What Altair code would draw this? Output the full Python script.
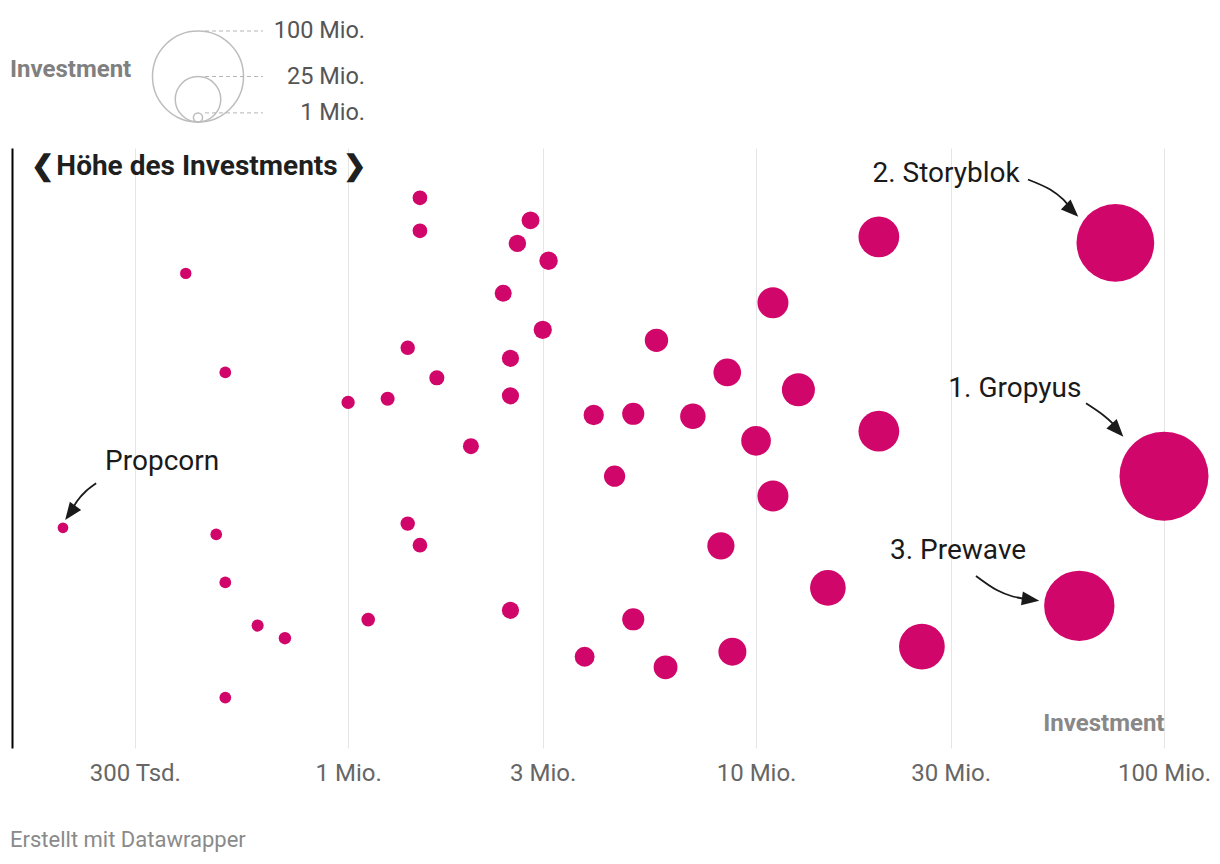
import math
import altair as alt
import pandas as pd

# ---------------- data ----------------
# Investment per start-up, in Mio. Euro
investment_mio = [1.5, 1.5, 2.8, 2.6, 3.1, 0.4, 2.4, 3.0, 1.4, 2.5,
                  0.5, 1.65, 1.0, 1.25, 2.5, 2.0, 4.0, 5.0, 5.7, 7.0,
                  8.5, 10.0, 11.0, 12.7, 20.0, 20.0, 76.0, 100.0, 4.5, 11.0,
                  0.2, 0.475, 1.4, 1.5, 8.2, 0.5, 15.0, 62.0, 0.6, 0.7,
                  1.12, 2.5, 5.0, 3.8, 6.0, 8.75, 25.5, 0.5]
# vertical scatter position (beeswarm jitter, 0 = top, 100 = bottom)
streuung = [8.3, 13.8, 12.05, 15.9, 18.8, 20.9, 24.2, 30.3, 33.3, 35.05,
            37.4, 38.3, 42.4, 41.8, 41.3, 49.7, 44.5, 44.3, 32.05, 44.7,
            37.4, 48.8, 25.8, 40.3, 14.8, 47.2, 15.8, 54.7, 54.7, 58.0,
            63.3, 64.4, 62.6, 66.2, 66.3, 72.4, 73.3, 76.3, 79.6, 81.7,
            78.6, 77.05, 78.55, 84.8, 86.55, 83.95, 83.1, 91.6]

tick_values = [300000, 1000000, 3000000, 10000000, 30000000, 100000000]
tick_labels = ["300 Tsd.", "1 Mio.", "3 Mio.", "10 Mio.", "30 Mio.", "100 Mio."]

ann_labels = ["2. Storyblok", "1. Gropyus", "3. Prewave", "Propcorn"]
ann_x_mio = [19.3, 29.6, 21.3, 0.2537]
ann_y = [4.3, 40.2, 67.2, 52.3]

arrow_id = ["Storyblok"] * 4 + ["Gropyus"] * 4 + ["Prewave"] * 4 + ["Propcorn"] * 4
arrow_step = [0, 1, 2, 3] * 4
arrow_x_mio = [46.4, 52.6, 56.6, 59.5,
               64.4, 70.9, 74.6, 76.9,
               34.6, 38.9, 42.6, 47.1,
               0.2412, 0.2279, 0.2167, 0.2085]
arrow_y = [5.25, 6.92, 8.58, 10.43,
           42.55, 44.5, 45.83, 47.03,
           71.33, 73.67, 74.75, 75.25,
           55.88, 57.17, 58.83, 60.82]
head_x_mio = [59.5, 76.9, 47.1, 0.2085]
head_y = [10.43, 47.03, 75.25, 60.82]
head_angle = [134, 137.5, 97.6, 216.2]

legend_title = "Investment"
legend_values = [100000000, 25000000, 1000000]
legend_labels = ["100 Mio.", "25 Mio.", "1 Mio."]

y_title = "\u276e\u200aH\u00f6he des Investments\u2009\u276f"
x_title = "Investment"
credit = "Erstellt mit Datawrapper"

# ---------------- styling ----------------
W, H = 1152, 600
FONT = "Roboto"
MAGENTA = "#d1066b"
INK = "#1a1a1a"

x_scale = alt.Scale(type="log", domain=[150000, 100000000], nice=False)
y_scale = alt.Scale(domain=[0, 100], reverse=True, nice=False, zero=False)

label_expr = "{" + ", ".join(f"'{v}': '{l}'" for v, l in zip(tick_values, tick_labels)) + "}[datum.value]"

x_axis = alt.Axis(values=tick_values, labelExpr=label_expr, grid=True, gridColor="#e5e5e5",
                  gridWidth=1, domain=False, ticks=False, labelFontSize=24, labelColor="#666666",
                  labelFont=FONT, labelPadding=13, labelFlush=False, labelOverlap=False,
                  title=x_title, titleX=W, titleY=-25, titleAlign="right", titleBaseline="middle",
                  titleFontSize=24, titleFontWeight="bold", titleColor="#888888", titleFont=FONT)
y_axis = alt.Axis(domain=True, domainColor="#000000", domainWidth=2, ticks=False, labels=False,
                  grid=False, title=y_title, titleAngle=0, titleX=18, titleY=18, titleAlign="left",
                  titleBaseline="middle", titleFontSize=28, titleFontWeight="bold",
                  titleColor="#1f1f1f", titleFont=FONT)

X = alt.X("x:Q", scale=x_scale, axis=x_axis)
Y = alt.Y("y:Q", scale=y_scale, axis=y_axis)

# ---------------- tables ----------------
pts = pd.DataFrame({"x": [v * 1e6 for v in investment_mio], "y": streuung})
pts["investment"] = pts["x"]
lab = pd.DataFrame({"x": [v * 1e6 for v in ann_x_mio], "y": ann_y, "label": ann_labels})
arr = pd.DataFrame({"x": [v * 1e6 for v in arrow_x_mio], "y": arrow_y,
                    "arrow": arrow_id, "step": arrow_step})
heads = pd.DataFrame({"x": [v * 1e6 for v in head_x_mio], "y": head_y, "angle": head_angle})
leg = pd.DataFrame({"legend_value": legend_values, "legend_label": legend_labels})
leg_t = pd.DataFrame({"t": [legend_title]})

# ---------------- layers ----------------
# Vega symbol size = (diameter)^2 for circles
points = alt.Chart(pts).mark_circle(color=MAGENTA, opacity=1).encode(
    x=X, y=Y,
    size=alt.Size("investment:Q", scale=alt.Scale(domain=[0, 100000000], range=[99, 7921]),
                  legend=None),
)

labels = alt.Chart(lab).mark_text(align="left", baseline="middle", fontSize=28, font=FONT,
                                  color=INK).encode(x=X, y=Y, text="label:N")

arrows = alt.Chart(arr).mark_line(color=INK, strokeWidth=1.8, interpolate="catmull-rom").encode(
    x=X, y=Y, detail="arrow:N", order="step:Q")

arrow_heads = alt.Chart(heads).mark_point(shape="M0,-1L0.8,1L-0.8,1Z", filled=True, fill=INK,
                                          strokeWidth=0, size=306, opacity=1).encode(
    x=X, y=Y, angle=alt.Angle("angle:Q", scale=None))

# nested size legend (Datawrapper style), drawn above the plot
LEG_R = 45.5       # px radius of the 100 Mio. legend circle
LEG_BOTTOM = 26    # px above the plot top where the circles sit
PX_PER_UNIT = H / 100.0
leg_base = alt.Chart(leg).transform_calculate(
    r=f"{LEG_R}*sqrt(datum.legend_value/100000000)"
).transform_calculate(
    y=f"-({LEG_BOTTOM}+datum.r)/{PX_PER_UNIT}",
    ytop=f"-({LEG_BOTTOM}+2*datum.r)/{PX_PER_UNIT}",
)
leg_circles = leg_base.mark_point(shape="circle", filled=False, stroke="#bdbdbd",
                                  strokeWidth=1.5, opacity=1).encode(
    x=alt.value(186), y=Y,
    size=alt.Size("legend_value:Q", scale=alt.Scale(domain=[0, 100000000],
                                                   range=[0, (2 * LEG_R) ** 2]), legend=None),
)
leg_lines = leg_base.transform_calculate(y="datum.ytop").mark_rule(
    color="#b5b5b5", strokeWidth=1, strokeDash=[4, 3]).encode(
    x=alt.value(193), x2=alt.value(251), y=Y)
leg_text = leg_base.transform_calculate(y="datum.ytop").mark_text(
    align="right", baseline="middle", fontSize=23.5, font=FONT, color="#555555").encode(
    x=alt.value(353), y=Y, text="legend_label:N")
leg_title = alt.Chart(leg_t).mark_text(align="left", baseline="middle", fontSize=24, font=FONT,
                                       fontWeight="bold", color="#808080").encode(
    x=alt.value(-2), y=alt.value(-78), text="t:N")

chart = alt.layer(
    points, arrows, arrow_heads, labels, leg_circles, leg_lines, leg_text, leg_title
).resolve_scale(size="independent").properties(
    width=W, height=H,
    autosize=alt.AutoSizeParams(type="none"),
    padding={"left": 4, "top": 140, "right": 48, "bottom": 104},
    title=alt.TitleParams(credit, orient="bottom", anchor="start", frame="group", fontSize=22,
                          font=FONT, color="#8a8a8a", fontWeight="normal", offset=45, dx=-2),
).configure(font=FONT, background="white", view=alt.ViewConfig(stroke=None))

chart.save("out.html", embed_options={"renderer": "svg", "actions": False})
